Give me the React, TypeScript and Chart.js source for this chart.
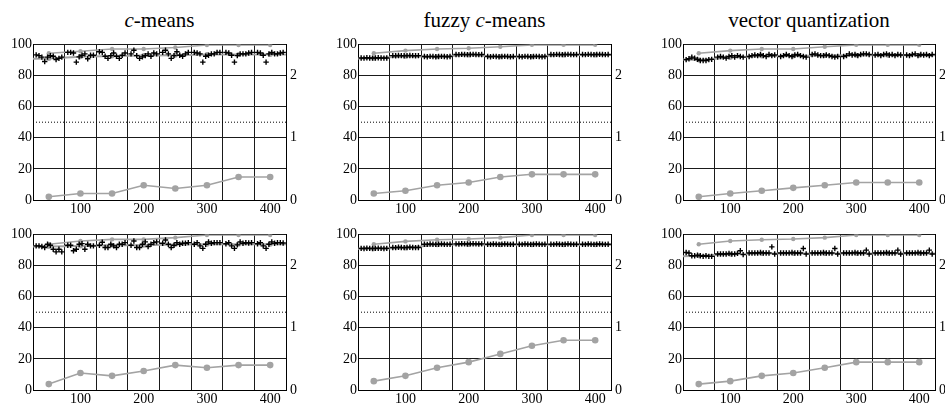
import React, { useEffect, useRef } from "react";
import { Chart, registerables } from "chart.js";
Chart.register(...registerables);

// ---------- data ----------
const groupCenters = [50, 100, 150, 200, 250, 300, 350, 400];
const midX = [25, 50, 100, 150, 200, 250, 300, 350, 400, 425];
const plusOffsets = [-20, -15.5, -11, -6.5, -2, 2.5, 7, 11.5, 16, 20.5];
const xTickValues = [25, 50, 75, 100, 125, 150, 175, 200, 225, 250, 275, 300, 325, 350, 375, 400, 425];
const xGridValues = [75, 125, 175, 225, 275, 325, 375];
const xLabelValues = [100, 200, 300, 400];
const leftTicks = [0, 20, 40, 60, 80, 100];
const rightTicks = [0, 1, 2];
const thresholdValue = 50;

const titles = ["c-means", "fuzzy c-means", "vector quantization"];

// top gray line (small dots)
const topLine1 = [94.3, 95.6, 97, 97, 98, 99.6, 99.6, 99.6];
const topLine2 = [94.3, 96, 97, 97.5, 98.5, 99.7, 99.7, 99.7];
const topLine3 = [94.3, 96, 97, 97, 98.5, 99.7, 99.7, 99.7];
const topLine4 = [93.7, 95.8, 96.8, 96.8, 97.9, 99.6, 99.6, 99.6];
const topLine5 = [93.7, 95.5, 96.6, 97, 97.9, 99.6, 99.6, 99.6];
const topLine6 = [93.7, 95.8, 96.6, 97, 97.9, 99.6, 99.6, 99.6];

// middle gray line (under the plus markers), at midX
const midLine1 = [90.8, 91, 92, 92.5, 92.8, 93, 93.5, 93.5, 93.5, 93.5];
const midLine2 = [91, 91.1, 92.4, 92, 93.2, 92, 92, 93.2, 93.2, 93.2];
const midLine3 = [90.3, 89.9, 91.6, 92.5, 92.5, 92.8, 93, 93, 93, 93];
const midLine4 = [92.3, 92.3, 92.5, 93, 93, 93.5, 93.7, 93.7, 93.7, 93.7];
const midLine5 = [90.8, 90.8, 91.3, 93.3, 93.5, 93.3, 93.3, 93.3, 93.3, 93.3];
const midLine6 = [86, 86.2, 87.3, 87.8, 87.8, 87.8, 87.8, 87.8, 87.8, 87.8];

// bottom gray line (large dots)
const bottomLine1 = [2.1, 4.2, 4.2, 9.5, 7.4, 9.5, 14.8, 14.8];
const bottomLine2 = [4.2, 5.9, 9.5, 11.2, 14.8, 16.5, 16.5, 16.5];
const bottomLine3 = [2.1, 4.2, 5.9, 7.8, 9.5, 11.2, 11.2, 11.2];
const bottomLine4 = [3.8, 10.9, 9.1, 12.2, 16, 14.3, 16, 16];
const bottomLine5 = [5.7, 9.1, 14.3, 17.9, 23.2, 28.4, 32, 32];
const bottomLine6 = [3.8, 5.7, 9.1, 10.9, 14.3, 17.9, 17.9, 17.9];

// plus markers, one row per group
const plus1 = [
  [93.3, 92.8, 91.8, 89, 91.8, 92.8, 92.4, 90.3, 91, 91.8],
  [94.9, 94.9, 94.5, 88.6, 92, 93, 93.9, 90.8, 93, 93],
  [95.3, 94.9, 92.4, 91, 92.8, 94.5, 92.4, 91, 93, 94.5],
  [93.9, 96.2, 92.8, 91, 92, 92.8, 93.9, 92.4, 94.5, 93.9],
  [94.9, 96.2, 93.9, 91, 92.8, 95.3, 93, 92.4, 93.9, 94.9],
  [94.9, 94.5, 93.9, 88.6, 92.4, 93, 93.9, 93.9, 94.9, 94.9],
  [94.9, 94.5, 93, 88.6, 92.8, 93.9, 93.9, 93.9, 94.5, 94.9],
  [94.9, 94.5, 93, 88.6, 93.9, 94.9, 93.9, 93.9, 94.5, 94.9],
];
const plus2 = [
  [91.3, 91.2, 91.4, 91.3, 91.2, 91.3, 91.4, 91.3, 91.2, 91.3],
  [92.8, 92.7, 92.9, 92.8, 92.7, 92.8, 92.9, 92.8, 92.7, 92.8],
  [92.2, 92.1, 92.3, 92.2, 92.1, 92.2, 92.3, 92.2, 92.1, 92.2],
  [93.5, 93.4, 93.6, 93.5, 93.4, 93.5, 93.6, 93.5, 93.4, 93.5],
  [92.2, 92.1, 92.3, 92.2, 92.1, 92.2, 92.3, 92.2, 92.1, 92.2],
  [92.2, 92.1, 92.3, 92.2, 92.1, 92.2, 92.3, 92.2, 92.1, 92.2],
  [93.5, 93.4, 93.6, 93.5, 93.4, 93.5, 93.6, 93.5, 93.4, 93.5],
  [93.5, 93.4, 93.6, 93.5, 93.4, 93.5, 93.6, 93.5, 93.4, 93.5],
];
const plus3 = [
  [90.2, 90.8, 91.8, 91.2, 90.4, 89.7, 89.7, 89.7, 90.2, 90.4],
  [91.8, 92.2, 91.8, 91.2, 92.2, 92.8, 91.8, 92.8, 92.2, 91.8],
  [92.2, 92.8, 93.2, 92.8, 93.5, 92.8, 92.2, 93.5, 92.8, 93.2],
  [92.2, 92.8, 93.5, 92.8, 92.2, 93.2, 93.5, 92.8, 92.2, 91.8],
  [93.5, 93.9, 93.2, 92.8, 92.8, 93.2, 92.8, 92.2, 91.8, 92.2],
  [92.2, 92.8, 93.9, 93.2, 93.5, 92.8, 93.5, 93.9, 93.9, 93.5],
  [93.2, 93.5, 92.8, 93.5, 93.9, 93.2, 93.5, 92.8, 93.5, 93.2],
  [93.2, 92.8, 93.5, 93.9, 92.8, 93.5, 93.2, 93.5, 92.8, 93.5],
];
const plus4 = [
  [92.6, 92.6, 92.2, 91.6, 93.7, 93, 90.5, 88.8, 90.5, 88.8],
  [93, 93, 89.5, 90.5, 93.7, 94.1, 90.5, 93.7, 92.6, 92.6],
  [93, 95, 91.6, 91.6, 93.7, 92.6, 91.6, 93.7, 93.7, 94.7],
  [93, 95.8, 91.6, 91.6, 93.7, 95.2, 92.2, 93.7, 94.7, 95.2],
  [94.3, 96.4, 93.7, 91.6, 93, 94.7, 93.7, 94.3, 94.3, 94.7],
  [93.7, 94.7, 92.6, 91, 93.7, 95.2, 94.3, 94.7, 94.7, 94.7],
  [94, 94.7, 92.6, 91, 93.3, 95.2, 94.3, 94.7, 94.5, 94.7],
  [94, 94.7, 92.6, 91, 93.7, 95.2, 94.3, 94.7, 94.7, 94.5],
];
const plus5 = [
  [91, 90.9, 91.1, 91, 90.9, 91, 91.1, 91, 90.9, 91],
  [91.6, 91.5, 91.7, 91.6, 91.5, 91.6, 91.7, 91.6, 91.5, 91.6],
  [93.7, 93.6, 93.8, 93.7, 93.6, 93.7, 93.8, 93.7, 93.6, 93.7],
  [93.9, 93.8, 94, 93.9, 93.8, 93.9, 94, 93.9, 93.8, 93.9],
  [93.7, 93.6, 93.8, 93.7, 93.6, 93.7, 93.8, 93.7, 93.6, 93.7],
  [93.7, 93.6, 93.8, 93.7, 93.6, 93.7, 93.8, 93.7, 93.6, 93.7],
  [93.7, 93.6, 93.8, 93.7, 93.6, 93.7, 93.8, 93.7, 93.6, 93.7],
  [93.7, 93.6, 93.8, 93.7, 93.6, 93.7, 93.8, 93.7, 93.6, 93.7],
];
const plus6 = [
  [88.4, 88, 86.3, 86.3, 86.7, 86.3, 85.9, 86.3, 85.9, 85.9],
  [87.4, 87.4, 87.4, 87.4, 87.8, 87.4, 87.4, 87.8, 89.5, 87],
  [88, 88, 88, 88, 88.4, 88, 88, 88, 92, 87.4],
  [88, 88, 88, 88, 88.4, 88, 88, 88, 90.9, 87.4],
  [88, 88, 88, 88, 88.4, 88, 88, 88, 90.9, 87.4],
  [88, 88, 88, 88, 88.4, 88, 88, 88, 89.9, 87.4],
  [88, 88, 88, 88, 88.4, 88, 88, 88, 89.9, 87.4],
  [88, 88, 88, 88, 88.4, 88, 88, 88, 89.9, 87.4],
];

const panels = [
  { top: topLine1, mid: midLine1, bottom: bottomLine1, plus: plus1 },
  { top: topLine2, mid: midLine2, bottom: bottomLine2, plus: plus2 },
  { top: topLine3, mid: midLine3, bottom: bottomLine3, plus: plus3 },
  { top: topLine4, mid: midLine4, bottom: bottomLine4, plus: plus4 },
  { top: topLine5, mid: midLine5, bottom: bottomLine5, plus: plus5 },
  { top: topLine6, mid: midLine6, bottom: bottomLine6, plus: plus6 },
];

// ---------- layout ----------
const plotLefts = [33, 358, 683];
const plotWidths = [253, 253, 252];
const plotTops = [42, 232];
const plotHeight = 158;
const leftAxisW = 32;
const rightAxisW = 22;
const padTop = 10;
const xAxisH = 17;

const FONT = '"Liberation Serif", "Times New Roman", Times, serif';
const GRAY = "#a3a3a3";
const GRID = "#1a1a1a";

Chart.defaults.font.family = FONT;
Chart.defaults.font.size = 14;
Chart.defaults.color = "#000";

function Panel({ idx }: { idx: number }) {
  const ref = useRef<HTMLCanvasElement | null>(null);
  const col = idx % 3;
  const row = Math.floor(idx / 3);
  const W = leftAxisW + plotWidths[col] + rightAxisW;
  const H = padTop + plotHeight + xAxisH;
  const left = plotLefts[col] - leftAxisW;
  const top = plotTops[row] - padTop;

  useEffect(() => {
    const p = panels[idx];
    const plusPts: { x: number; y: number }[] = [];
    p.plus.forEach((g, gi) =>
      g.forEach((v, i) => plusPts.push({ x: groupCenters[gi] + plusOffsets[i], y: v }))
    );
    const tickFont = { family: FONT, size: 14 };
    const chart = new Chart(ref.current as HTMLCanvasElement, {
      type: "scatter",
      data: {
        datasets: [
          {
            data: plusPts,
            pointStyle: "cross",
            pointRadius: 2.7,
            pointBorderWidth: 1.4,
            borderColor: "#000",
            backgroundColor: "#000",
            showLine: false,
          },
          {
            data: groupCenters.map((x, i) => ({ x, y: p.top[i] })),
            showLine: true,
            borderColor: GRAY,
            borderWidth: 1.6,
            pointRadius: 2.2,
            pointBackgroundColor: GRAY,
            pointBorderColor: GRAY,
            pointBorderWidth: 0,
          },
          {
            data: midX.map((x, i) => ({ x, y: p.mid[i] })),
            showLine: true,
            borderColor: GRAY,
            borderWidth: 2,
            pointRadius: (c: any) => (c.dataIndex === 0 || c.dataIndex === midX.length - 1 ? 0 : 2.5),
            pointBackgroundColor: GRAY,
            pointBorderColor: GRAY,
            pointBorderWidth: 0,
          },
          {
            data: groupCenters.map((x, i) => ({ x, y: p.bottom[i] })),
            showLine: true,
            borderColor: GRAY,
            borderWidth: 1.6,
            pointRadius: 3.3,
            pointBackgroundColor: GRAY,
            pointBorderColor: GRAY,
            pointBorderWidth: 0,
          },
          {
            data: [
              { x: xTickValues[0], y: thresholdValue },
              { x: xTickValues[xTickValues.length - 1], y: thresholdValue },
            ],
            showLine: true,
            borderColor: "#000",
            borderWidth: 1,
            borderDash: [1, 2],
            pointRadius: 0,
          },
        ],
      },
      options: {
        animation: false,
        responsive: false,
        events: [],
        layout: { padding: { top: padTop, left: 0, right: 0, bottom: 0 } },
        plugins: { legend: { display: false }, tooltip: { enabled: false }, title: { display: false } },
        elements: { line: { tension: 0 } },
        scales: {
          x: {
            type: "linear",
            min: xTickValues[0],
            max: xTickValues[xTickValues.length - 1],
            afterBuildTicks: (s: any) => {
              s.ticks = xTickValues.map((v) => ({ value: v }));
            },
            afterFit: (s: any) => {
              s.height = xAxisH;
            },
            grid: {
              drawTicks: false,
              color: (c: any) => (c.tick && xGridValues.includes(c.tick.value) ? GRID : "rgba(0,0,0,0)"),
              lineWidth: 1,
            },
            border: { display: true, color: "#000", width: 1 },
            ticks: {
              autoSkip: false,
              maxRotation: 0,
              padding: 1,
              color: "#000",
              font: tickFont,
              callback: (v: any) => (xLabelValues.includes(Number(v)) ? String(v) : ""),
            },
          },
          y: {
            type: "linear",
            position: "left",
            min: leftTicks[0],
            max: leftTicks[leftTicks.length - 1],
            afterBuildTicks: (s: any) => {
              s.ticks = leftTicks.map((v) => ({ value: v }));
            },
            afterFit: (s: any) => {
              s.width = leftAxisW;
            },
            grid: { drawTicks: false, color: GRID, lineWidth: 1 },
            border: { display: true, color: "#000", width: 1 },
            ticks: { padding: 1, color: "#000", font: tickFont },
          },
          y2: {
            type: "linear",
            position: "right",
            min: 0,
            max: 2.5,
            afterBuildTicks: (s: any) => {
              s.ticks = rightTicks.map((v) => ({ value: v }));
            },
            afterFit: (s: any) => {
              s.width = rightAxisW;
            },
            grid: { display: false, drawTicks: false },
            border: { display: true, color: "#000", width: 1 },
            ticks: { padding: 4, color: "#000", font: tickFont },
          },
        },
      } as any,
    });
    return () => chart.destroy();
  }, [idx]);

  return (
    <canvas
      ref={ref}
      width={W}
      height={H}
      style={{ position: "absolute", left, top, width: W, height: H }}
    />
  );
}

function Title({ text, col }: { text: string; col: number }) {
  const parts = text.split("c-");
  return (
    <div
      style={{
        position: "absolute",
        left: plotLefts[col] - 20,
        width: plotWidths[col] + 40,
        top: 8,
        height: 24,
        lineHeight: "24px",
        textAlign: "center",
        fontFamily: FONT,
        fontSize: 21,
        color: "#000",
        whiteSpace: "nowrap",
      }}
    >
      {parts.length > 1 ? (
        <>
          {parts[0]}
          <i>c</i>-{parts[1]}
        </>
      ) : (
        text
      )}
    </div>
  );
}

export default function App() {
  return (
    <div
      style={{
        position: "absolute",
        left: 0,
        top: 0,
        width: 945,
        height: 407,
        overflow: "hidden",
        background: "#fff",
      }}
    >
      {titles.map((t, i) => (
        <Title key={"t" + i} text={t} col={i} />
      ))}
      {[0, 1, 2, 3, 4, 5].map((i) => (
        <Panel key={i} idx={i} />
      ))}
    </div>
  );
}
